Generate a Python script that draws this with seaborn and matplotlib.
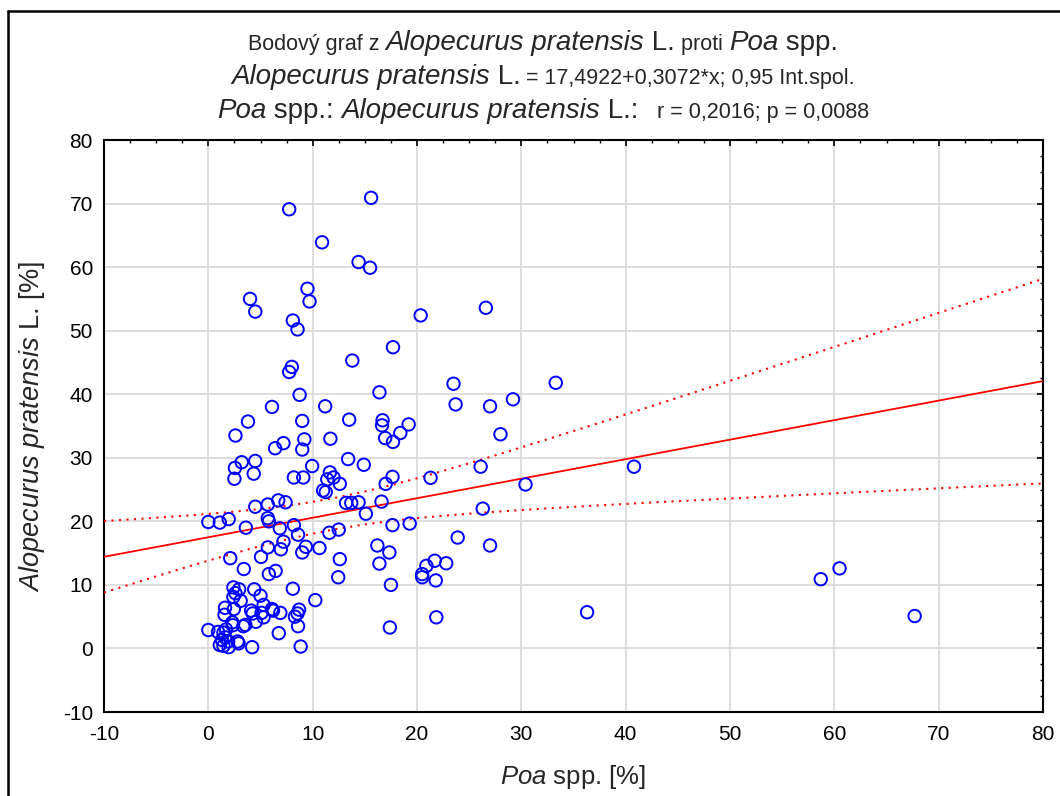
import numpy as np
import matplotlib
matplotlib.use("Agg")
import matplotlib.pyplot as plt
from matplotlib.lines import Line2D
from matplotlib.ticker import MultipleLocator
import seaborn as sns

# ---- data ----
poa = [7.75, 10.9, 9.5, 9.7, 4.0, 4.5, 8.1, 8.55, 8.0, 7.75,
       15.6, 14.4, 15.5, 20.35, 26.6, 17.7, 13.8, 16.4, 23.5, 29.2,
       8.75, 6.1, 11.2, 3.8, 9.0, 13.5, 2.6, 9.2, 11.7, 7.2,
       6.4, 9.0, 13.4, 3.2, 4.5, 2.55, 9.95, 4.35, 2.5, 8.2,
       9.1, 11.65, 11.4, 12.0, 12.6, 11.0, 11.25, 13.2, 4.5, 5.7,
       6.7, 7.4, 0.0, 1.1, 1.95, 5.7, 5.8, 3.6, 6.85, 8.2,
       8.6, 11.6, 12.5, 7.2, 6.95, 5.7, 9.0, 9.35, 10.65, 5.05,
       2.1, 12.6, 3.4, 6.45, 5.8, 12.45, 2.4, 2.95, 2.6, 4.4,
       5.0, 2.4, 3.1, 8.1, 10.25, 1.6, 2.45, 1.55, 4.1, 4.25,
       5.3, 5.1, 5.3, 6.1, 6.2, 6.9, 4.55, 2.3, 2.35, 3.35,
       3.55, 8.7, 8.55, 8.3, 8.6, 6.75, 0.0, 0.93, 1.45, 1.7,
       1.3, 1.1, 1.45, 1.95, 1.9, 2.8, 2.9, 4.2, 8.85, 1.6,
       23.7, 27.0, 16.7, 16.65, 19.2, 18.4, 16.95, 17.7, 28.0, 14.9,
       26.1, 17.65, 17.0, 21.3, 13.7, 14.4, 16.6, 15.1, 26.3, 17.65,
       19.3, 16.2, 17.35, 23.9, 27.0, 16.4, 20.9, 21.7, 22.8, 20.5,
       20.5, 21.8, 17.5, 21.85, 17.4,
       33.3, 40.8, 30.4, 36.3, 58.7, 60.5, 67.7]
alopecurus = [69.1, 63.9, 56.6, 54.6, 55.0, 53.0, 51.6, 50.2, 44.3, 43.5,
              70.9, 60.8, 59.9, 52.4, 53.6, 47.4, 45.3, 40.3, 41.65, 39.2,
              39.9, 38.0, 38.1, 35.7, 35.8, 36.0, 33.5, 32.9, 33.0, 32.3,
              31.5, 31.3, 29.8, 29.3, 29.5, 28.4, 28.7, 27.5, 26.7, 26.9,
              26.9, 27.7, 26.6, 26.9, 25.9, 24.85, 24.6, 22.9, 22.3, 22.65,
              23.3, 23.0, 19.9, 19.8, 20.35, 20.5, 20.0, 19.0, 18.9, 19.4,
              17.9, 18.2, 18.7, 16.8, 15.6, 15.9, 15.1, 16.0, 15.8, 14.4,
              14.2, 14.05, 12.5, 12.2, 11.7, 11.2, 9.6, 9.3, 8.7, 9.3,
              8.3, 8.1, 7.5, 9.4, 7.6, 6.4, 6.2, 5.3, 5.95, 5.5,
              6.85, 5.6, 4.9, 6.2, 5.95, 5.6, 4.2, 4.1, 3.65, 3.5,
              3.7, 6.1, 5.5, 5.0, 3.5, 2.4, 2.9, 2.6, 2.5, 3.0,
              1.35, 0.55, 0.4, 0.2, 1.1, 1.1, 0.8, 0.2, 0.3, 1.75,
              38.4, 38.1, 35.9, 35.1, 35.25, 33.9, 33.1, 32.5, 33.7, 28.9,
              28.6, 27.0, 25.9, 26.85, 22.9, 23.0, 23.1, 21.2, 22.0, 19.4,
              19.65, 16.2, 15.1, 17.45, 16.2, 13.35, 13.0, 13.8, 13.4, 11.7,
              11.2, 10.7, 10.0, 4.9, 3.3,
              41.8, 28.6, 25.8, 5.7, 10.9, 12.6, 5.1]
intercept = 17.4922
slope = 0.3072
x_ticks = [-10, 0, 10, 20, 30, 40, 50, 60, 70, 80]
y_ticks = [-10, 0, 10, 20, 30, 40, 50, 60, 70, 80]

W, H = 1060, 796
sns.set_style("white")
plt.rcParams["font.family"] = ["Liberation Sans", "DejaVu Sans"]
plt.rcParams["mathtext.fontset"] = "custom"
plt.rcParams["mathtext.rm"] = "Liberation Sans"
plt.rcParams["mathtext.it"] = "Liberation Sans:italic"
plt.rcParams["axes.unicode_minus"] = False

fig = plt.figure(figsize=(W / 100, H / 100), dpi=100)
ax = fig.add_axes([104 / W, 1 - 712 / H, (1043 - 104) / W, (712 - 140) / H])

x = np.asarray(poa, float)
y = np.asarray(alopecurus, float)

ax.set_xlim(x_ticks[0], x_ticks[-1])
ax.set_ylim(y_ticks[0], y_ticks[-1])
ax.set_xticks(x_ticks)
ax.set_yticks(y_ticks)
ax.xaxis.set_minor_locator(MultipleLocator(2.5))
ax.yaxis.set_minor_locator(MultipleLocator(2.5))
ax.grid(True, which="major", color="#dadada", linewidth=1.3, zorder=0)
ax.set_axisbelow(True)

# regression line and 0.95 confidence band
xs = np.linspace(x_ticks[0], x_ticks[-1], 300)
fit = intercept + slope * xs
n = len(x)
resid = y - (intercept + slope * x)
s = np.sqrt(np.sum(resid ** 2) / (n - 2))
sxx = np.sum((x - x.mean()) ** 2)
tval = 1.975
half = tval * s * np.sqrt(1 / n + (xs - x.mean()) ** 2 / sxx)
ax.plot(xs, fit, color="#ff0000", lw=1.3, zorder=3)
for band in (fit + half, fit - half):
    ax.plot(xs, band, color="#ff0000", lw=1.5, linestyle=(0, (1, 2.6)),
            dash_capstyle="butt", zorder=3)

sns.scatterplot(x=x, y=y, ax=ax, s=80, facecolors="none", edgecolor="#0000ff",
                linewidth=1.4, zorder=4)

for sp in ax.spines.values():
    sp.set_color("black")
    sp.set_linewidth(1.5)
ax.tick_params(which="both", direction="in", top=True, right=True,
               colors="black", labelsize=15)
ax.tick_params(axis="x", which="major", length=4.5, width=1.2, pad=9)
ax.tick_params(axis="y", which="major", length=4.5, width=1.2, pad=8)
ax.tick_params(which="minor", length=2.5, width=1.0)

ax.set_xlabel(r"$\mathit{Poa}$ spp. [%]", fontsize=18.5, labelpad=14)
ax.set_ylabel(r"$\mathit{Alopecurus\ pratensis}$ L. [%]", fontsize=19.5, labelpad=11)

# figure frame
fig.add_artist(Line2D([8 / W, 8 / W], [0, 1 - 11 / H], color="black", lw=1.8,
                      transform=fig.transFigure))
fig.add_artist(Line2D([8 / W, 1], [1 - 11 / H, 1 - 11 / H], color="black", lw=1.8,
                      transform=fig.transFigure))

# title lines of mixed sizes
L, S = 20, 15.5
lines = [
    ([("Bodový graf z ", S, "normal"), ("Alopecurus pratensis", L, "italic"),
      (" L.", L, "normal"), (" proti ", S, "normal"), ("Poa", L, "italic"),
      (" spp.", L, "normal")], 50),
    ([("Alopecurus pratensis", L, "italic"), (" L.", L, "normal"),
      (" = 17,4922+0,3072*x; 0,95 Int.spol.", S, "normal")], 84),
    ([("Poa", L, "italic"), (" spp.: ", L, "normal"),
      ("Alopecurus pratensis", L, "italic"), (" L.:", L, "normal"),
      ("   r = 0,2016; p = 0,0088", S, "normal")], 118),
]
renderer = fig.canvas.get_renderer()
cx = 543
for pieces, base in lines:
    ts = [fig.text(0, 0, txt, fontsize=sz, style=st, ha="left", va="baseline")
          for txt, sz, st in pieces]
    ws = [t.get_window_extent(renderer).width for t in ts]
    xp = cx - sum(ws) / 2
    for t, w in zip(ts, ws):
        t.set_position((xp / W, 1 - base / H))
        xp += w

fig.savefig("out.png", dpi=100)
